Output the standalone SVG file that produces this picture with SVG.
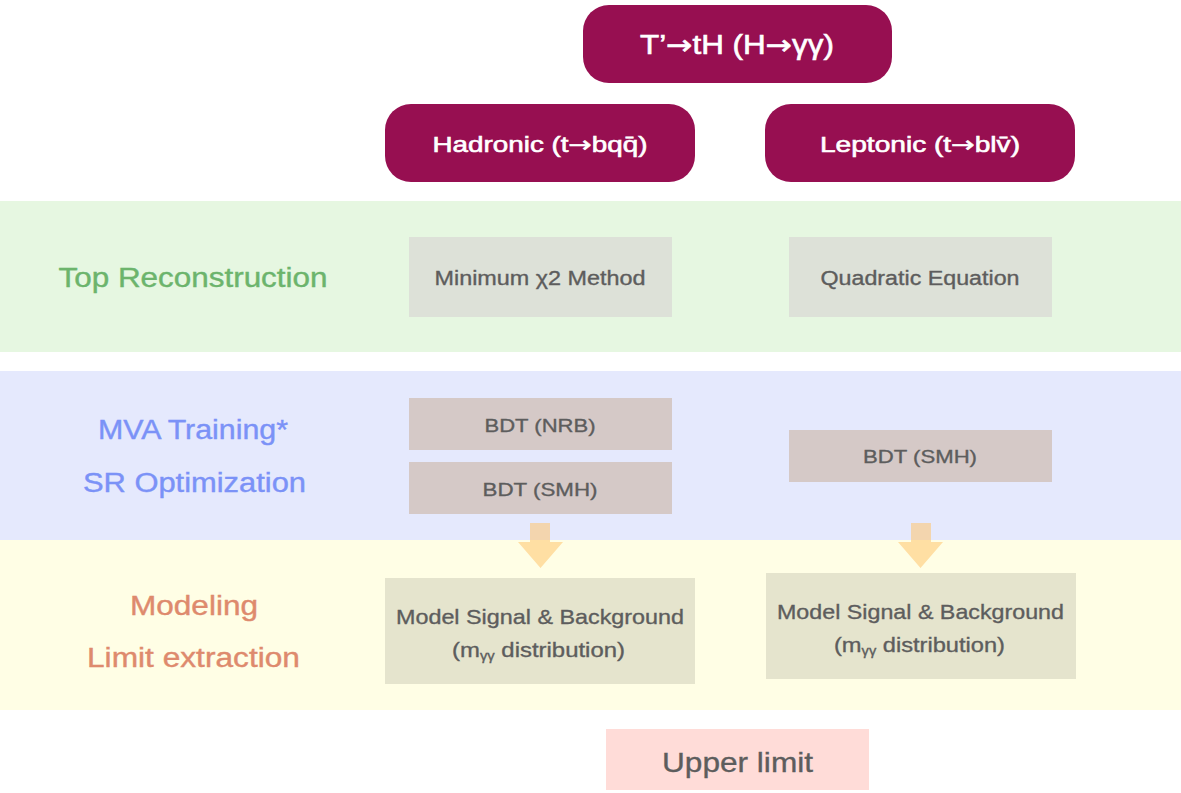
<svg xmlns="http://www.w3.org/2000/svg" width="1181" height="793" viewBox="0 0 1181 793">
<style>
.hdr{fill:#970f51}
.ht{fill:#ffffff;stroke:#ffffff;stroke-width:0.6;font-family:"Liberation Sans",Arial,sans-serif;text-anchor:middle}
.ar{font-family:"DejaVu Sans",sans-serif}
.lbl{font-family:"Liberation Sans",Arial,sans-serif;font-size:27px;text-anchor:middle;stroke-width:0.4}
.bt{fill:#5d5d5d;stroke:#5d5d5d;stroke-width:0.35;font-family:"Liberation Sans",Arial,sans-serif;text-anchor:middle}
.arrow{fill:#ffc46e;opacity:0.55}
</style>
<rect width="1181" height="793" fill="#ffffff"/>
<g id="bands">
<rect x="0" y="201" width="1181" height="151" fill="#e6f7e1"/>
<rect x="0" y="371" width="1181" height="169" fill="#e5e9fd"/>
<rect x="0" y="540" width="1181" height="170" fill="#fffee5"/>
<text class="lbl" x="193" y="287" fill="#6cb46c" stroke="#6cb46c" textLength="269" lengthAdjust="spacingAndGlyphs">Top Reconstruction</text>
<text class="lbl" x="193" y="439" fill="#7b92f7" stroke="#7b92f7" textLength="190" lengthAdjust="spacingAndGlyphs">MVA Training*</text>
<text class="lbl" x="194.5" y="492" fill="#7b92f7" stroke="#7b92f7" textLength="223" lengthAdjust="spacingAndGlyphs">SR Optimization</text>
<text class="lbl" x="194" y="615" fill="#de8a6d" stroke="#de8a6d" textLength="128" lengthAdjust="spacingAndGlyphs">Modeling</text>
<text class="lbl" x="193.5" y="667" fill="#de8a6d" stroke="#de8a6d" textLength="213" lengthAdjust="spacingAndGlyphs">Limit extraction</text>
</g>
<g id="node-top">
<rect class="hdr" x="583" y="5" width="309" height="78" rx="26"/>
<text class="ht" x="737" y="54" font-size="27" textLength="194" lengthAdjust="spacingAndGlyphs">T’<tspan class="ar">→</tspan>tH (H<tspan class="ar">→</tspan>γγ)</text>
</g>
<g id="node-hadronic">
<rect class="hdr" x="385" y="104" width="310" height="78" rx="26"/>
<text class="ht" x="540" y="152" font-size="22" stroke-width="0.4" textLength="215" lengthAdjust="spacingAndGlyphs">Hadronic (t<tspan class="ar">→</tspan>bqq̄)</text>
</g>
<g id="node-leptonic">
<rect class="hdr" x="765" y="104" width="310" height="78" rx="26"/>
<text class="ht" x="920" y="152" font-size="22" stroke-width="0.4" textLength="200" lengthAdjust="spacingAndGlyphs">Leptonic (t<tspan class="ar">→</tspan>blv̄)</text>
</g>
<g id="node-chi2">
<rect x="409" y="237" width="263" height="80" fill="#dde1d8"/>
<text class="bt" x="540" y="285" font-size="20" textLength="211" lengthAdjust="spacingAndGlyphs">Minimum χ2 Method</text>
</g>
<g id="node-quadratic">
<rect x="789" y="237" width="263" height="80" fill="#dde1d8"/>
<text class="bt" x="920" y="285" font-size="20" textLength="199" lengthAdjust="spacingAndGlyphs">Quadratic Equation</text>
</g>
<g id="node-bdt-nrb">
<rect x="409" y="398" width="263" height="52" fill="#d5c9c7"/>
<text class="bt" x="540" y="432" font-size="19" textLength="111" lengthAdjust="spacingAndGlyphs">BDT (NRB)</text>
</g>
<g id="node-bdt-smh-had">
<rect x="409" y="462" width="263" height="52" fill="#d5c9c7"/>
<text class="bt" x="540" y="496" font-size="19" textLength="115" lengthAdjust="spacingAndGlyphs">BDT (SMH)</text>
</g>
<g id="node-bdt-smh-lep">
<rect x="789" y="430" width="263" height="52" fill="#d5c9c7"/>
<text class="bt" x="920" y="463" font-size="19" textLength="114" lengthAdjust="spacingAndGlyphs">BDT (SMH)</text>
</g>
<g id="node-model-had">
<rect x="385" y="578" width="310" height="106" fill="#e5e4cd"/>
<text class="bt" x="540" y="624" font-size="21" textLength="288" lengthAdjust="spacingAndGlyphs">Model Signal &amp; Background</text>
<text class="bt" x="538.5" y="657" font-size="21" textLength="173" lengthAdjust="spacingAndGlyphs">(m<tspan font-size="13" dy="3">γγ</tspan><tspan dy="-3"> distribution)</tspan></text>
</g>
<g id="node-model-lep">
<rect x="766" y="573" width="310" height="106" fill="#e5e4cd"/>
<text class="bt" x="920.5" y="619" font-size="21" textLength="287" lengthAdjust="spacingAndGlyphs">Model Signal &amp; Background</text>
<text class="bt" x="919.5" y="652" font-size="21" textLength="171" lengthAdjust="spacingAndGlyphs">(m<tspan font-size="13" dy="3">γγ</tspan><tspan dy="-3"> distribution)</tspan></text>
</g>
<g id="node-upper">
<rect x="606" y="729" width="263" height="61" fill="#ffdcd8"/>
<text class="bt" x="737.5" y="772" font-size="28" stroke-width="0.5" textLength="151" lengthAdjust="spacingAndGlyphs">Upper limit</text>
</g>
<g id="connectors">
<path class="arrow" d="M530 523 H550 V542 H563 L540.5 568 L518 542 H530 Z"/>
<path class="arrow" d="M911 523 H931 V542 H943 L920.5 568 L898 542 H911 Z"/>
</g>
</svg>
